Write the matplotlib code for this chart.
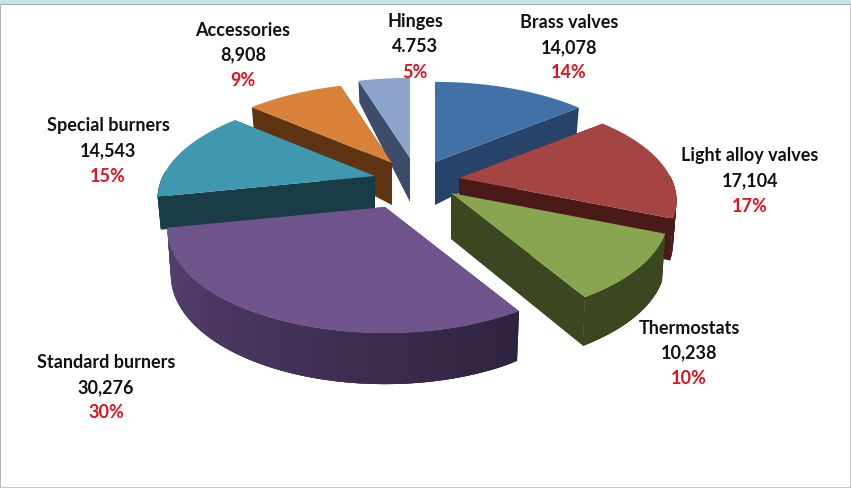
import numpy as np
import matplotlib
matplotlib.use("Agg")
import matplotlib.pyplot as plt
from matplotlib.colors import to_rgb
from matplotlib.patches import Polygon, Rectangle

names = ["Brass valves", "Light alloy valves", "Thermostats", "Standard burners",
         "Special burners", "Accessories", "Hinges"]
values = [14078, 17104, 10238, 30276, 14543, 8908, 4753]
value_labels = ["14,078", "17,104", "10,238", "30,276", "14,543", "8,908", "4.753"]
pct_labels = ["14%", "17%", "10%", "30%", "15%", "9%", "5%"]

top_colors = ["#4171A6", "#A54543", "#8AA54F", "#6F558C", "#3F98B0", "#D8823A", "#8CA3CB"]
side_colors = ["#27436A", "#491A17", "#3B4720", "#2E233F", "#1A3C47", "#5E3311", "#3C4C69"]
wall_left = ["#27436A", "#491A17", "#3B4720", "#584272", "#1A3C47", "#5E3311", "#3C4C69"]
draw_order = [6, 0, 5, 4, 1, 2, 3]

# how far each slice is pulled out of the pie, in pixels
explode_dx = [24, 48, 40, -26, -36, -19, -1]
explode_dy = [-21, -5, 10, 24, -7, -20, -25]
# side wall height: base + slope * (how far to the front)
depth_base = [36, 36, 46, 43, 30, 36, 36]
depth_slope = [15, 15, 3, 8, 15, 15, 15]
apex_depth = [43, 40, 46, 42, 33, 42, 44]

label_x = [569, 750, 689, 106, 108, 243, 415]
label_y = [23, 156, 328, 363, 126, 30, 22]

cx, cy = 411, 183
R = 212
RY = 98
persp = 0.223

plt.rcParams["font.family"] = ["Lato", "DejaVu Sans"]

fig = plt.figure(figsize=(8.51, 4.88), dpi=100)
ax = fig.add_axes([0, 0, 1, 1])
ax.set_xlim(0, 851)
ax.set_ylim(488, 0)
ax.axis("off")

# frame of the slide
ax.add_patch(Rectangle((0, 0), 851, 4, fc="#C6E3E8", ec="none"))
ax.add_patch(Rectangle((0, 4), 851, 1.2, fc="#A8A8A8", ec="none"))
ax.add_patch(Rectangle((0, 4), 1.2, 484, fc="#B4B4B4", ec="none"))
ax.add_patch(Rectangle((849.8, 4), 1.2, 484, fc="#C8C8C8", ec="none"))
ax.add_patch(Rectangle((0, 486.8), 851, 1.2, fc="#C8C8C8", ec="none"))


def project(theta):
    # angle clockwise from 12 o'clock, returns pixel offset from the slice apex
    u = np.sin(theta)
    v = -np.cos(theta)
    s = 1 / (1 - persp * v)
    return R * u * s, RY * v * s, v


def mix(c1, c2, t):
    return tuple((1 - t) * a + t * b for a, b in zip(to_rgb(c1), to_rgb(c2)))


total = sum(values)
edges = np.cumsum([0] + values) / total * 2 * np.pi

for i in draw_order:
    a0, a1 = edges[i], edges[i + 1]
    ax0 = cx + explode_dx[i]
    ay0 = cy + explode_dy[i]
    th = np.linspace(a0, a1, 80)
    dx, dy, v = project(th)
    top_x = ax0 + dx
    top_y = ay0 + dy
    bot_x = ax0 + dx * 0.985
    bot_y = ay0 + dy + depth_base[i] + depth_slope[i] * v

    # radial faces
    for j in [0, -1]:
        quad = [(ax0, ay0), (top_x[j], top_y[j]), (bot_x[j], bot_y[j]), (ax0, ay0 + apex_depth[i])]
        ax.add_patch(Polygon(quad, fc=side_colors[i], ec="none"))

    # outer wall, only the part turned to the viewer. strips overlap so no seams show
    n = len(th)
    for k in range(n - 1):
        if v[k] < -0.02 and v[k + 1] < -0.02:
            continue
        t = (k + 0.5) / (n - 1)
        col = mix(side_colors[i], wall_left[i], t)
        k2 = min(k + 3, n - 1)
        quad = list(zip(top_x[k:k2 + 1], top_y[k:k2 + 1])) + list(zip(bot_x[k:k2 + 1], bot_y[k:k2 + 1]))[::-1]
        ax.add_patch(Polygon(quad, fc=col, ec="none"))

    pts = [(ax0, ay0)] + list(zip(top_x, top_y))
    ax.add_patch(Polygon(pts, fc=top_colors[i], ec="none"))

for i in range(len(names)):
    ax.text(label_x[i], label_y[i], names[i], ha="center", va="center",
            fontsize=13, fontweight="bold", color="#111111", zorder=5)
    ax.text(label_x[i], label_y[i] + 25, value_labels[i], ha="center", va="center",
            fontsize=13, fontweight="bold", color="#111111", zorder=5)
    ax.text(label_x[i], label_y[i] + 50, pct_labels[i], ha="center", va="center",
            fontsize=13, fontweight="bold", color="#E3101E", zorder=5)

fig.savefig("out.png", dpi=100)
